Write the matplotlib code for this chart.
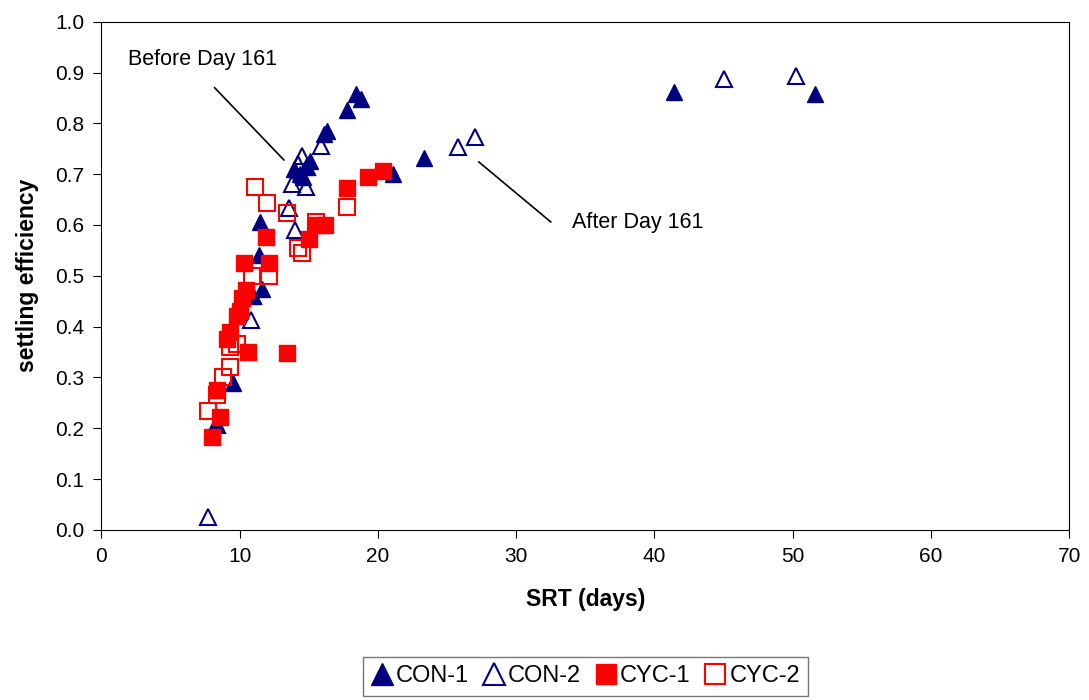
import matplotlib.pyplot as plt
from matplotlib.ticker import MultipleLocator, FormatStrFormatter

plt.rcParams["font.family"] = ["Liberation Sans", "DejaVu Sans"]

# CON-1 (filled triangles)
con1_srt = [41.4, 51.6, 18.4, 18.8, 17.8, 16.3, 16.1, 23.3, 21.1, 13.9, 14.4, 14.8, 15.1,
            14.6, 11.5, 11.4, 11.6, 11.0, 9.5, 8.3]
con1_eff = [0.862, 0.858, 0.857, 0.848, 0.827, 0.785, 0.78, 0.732, 0.70, 0.71, 0.70, 0.715, 0.725,
            0.695, 0.606, 0.54, 0.475, 0.46, 0.29, 0.21]

# CON-2 (open triangles)
con2_srt = [7.7, 45.0, 50.2, 25.8, 27.0, 15.9, 14.5, 14.2, 14.8, 13.8, 13.6, 14.0, 10.8, 11.0, 8.4,
            14.9]
con2_eff = [0.025, 0.887, 0.893, 0.754, 0.773, 0.756, 0.735, 0.72, 0.675, 0.68, 0.633, 0.59, 0.413,
            0.46, 0.207, 0.715]

# CYC-1 (filled squares)
cyc1_srt = [20.4, 19.3, 17.8, 15.0, 15.6, 16.2, 11.9, 10.3, 12.1, 10.5, 10.2, 9.8, 9.3, 9.1,
            10.6, 13.4, 8.4, 8.6, 8.0, 10.0]
cyc1_eff = [0.707, 0.695, 0.672, 0.573, 0.60, 0.60, 0.577, 0.525, 0.525, 0.472, 0.457, 0.42, 0.39,
            0.375, 0.35, 0.348, 0.275, 0.222, 0.183, 0.43]

# CYC-2 (open squares)
cyc2_srt = [17.8, 11.1, 12.0, 13.4, 15.5, 14.2, 14.5, 12.1, 10.9, 9.3, 9.3, 8.8, 8.4, 7.7, 9.8]
cyc2_eff = [0.636, 0.675, 0.644, 0.624, 0.605, 0.555, 0.545, 0.50, 0.50, 0.36, 0.32, 0.30, 0.265,
            0.233, 0.365]

# annotation label positions and pointer lines (data units)
before_text = (7.3, 0.925)
before_line = ([8.2, 13.2], [0.870, 0.728])
after_text = (38.8, 0.605)
after_line = ([27.3, 32.5], [0.724, 0.606])

navy = "#000080"
red = "#FF0000"

fig = plt.figure(figsize=(10.89, 7.0), dpi=100)
ax = fig.add_axes([0.093, 0.243, 0.889, 0.726])

ax.plot(con1_srt, con1_eff, ls="", marker="^", ms=12, color=navy, mec=navy, label="CON-1")
ax.plot(con2_srt, con2_eff, ls="", marker="^", ms=12, mfc="none", mec=navy, mew=1.5, label="CON-2")
ax.plot(cyc1_srt, cyc1_eff, ls="", marker="s", ms=11.5, color=red, mec=red, label="CYC-1")
ax.plot(cyc2_srt, cyc2_eff, ls="", marker="s", ms=11.5, mfc="none", mec=red, mew=1.5, label="CYC-2")

ax.set_xlim(0, 70)
ax.set_ylim(0, 1.0)
ax.xaxis.set_major_locator(MultipleLocator(10))
ax.yaxis.set_major_locator(MultipleLocator(0.1))
ax.yaxis.set_major_formatter(FormatStrFormatter("%.1f"))
ax.tick_params(labelsize=15, direction="out", length=6, width=0.8)
ax.xaxis.set_tick_params(pad=6)
ax.yaxis.set_tick_params(pad=6)

ax.set_xlabel("SRT (days)", fontsize=16.5, fontweight="bold", labelpad=16)
ax.set_ylabel("settling efficiency", fontsize=16.5, fontweight="bold", labelpad=12)

# annotations
ax.text(*before_text, "Before Day 161", fontsize=15.5, ha="center", va="center")
ax.plot(*before_line, color="black", lw=1.2)
ax.text(*after_text, "After Day 161", fontsize=15.5, ha="center", va="center")
ax.plot(*after_line, color="black", lw=1.2)

leg = fig.legend(loc="upper center", bbox_to_anchor=(0.5377, 0.0614), ncol=4, fontsize=17,
                 frameon=True, fancybox=False, edgecolor="#555555", handlelength=0.9,
                 handletextpad=0.15, columnspacing=0.6, borderpad=0.35, borderaxespad=0,
                 markerscale=1.3)
leg.get_frame().set_linewidth(1.0)

fig.savefig("out.png", dpi=100)
